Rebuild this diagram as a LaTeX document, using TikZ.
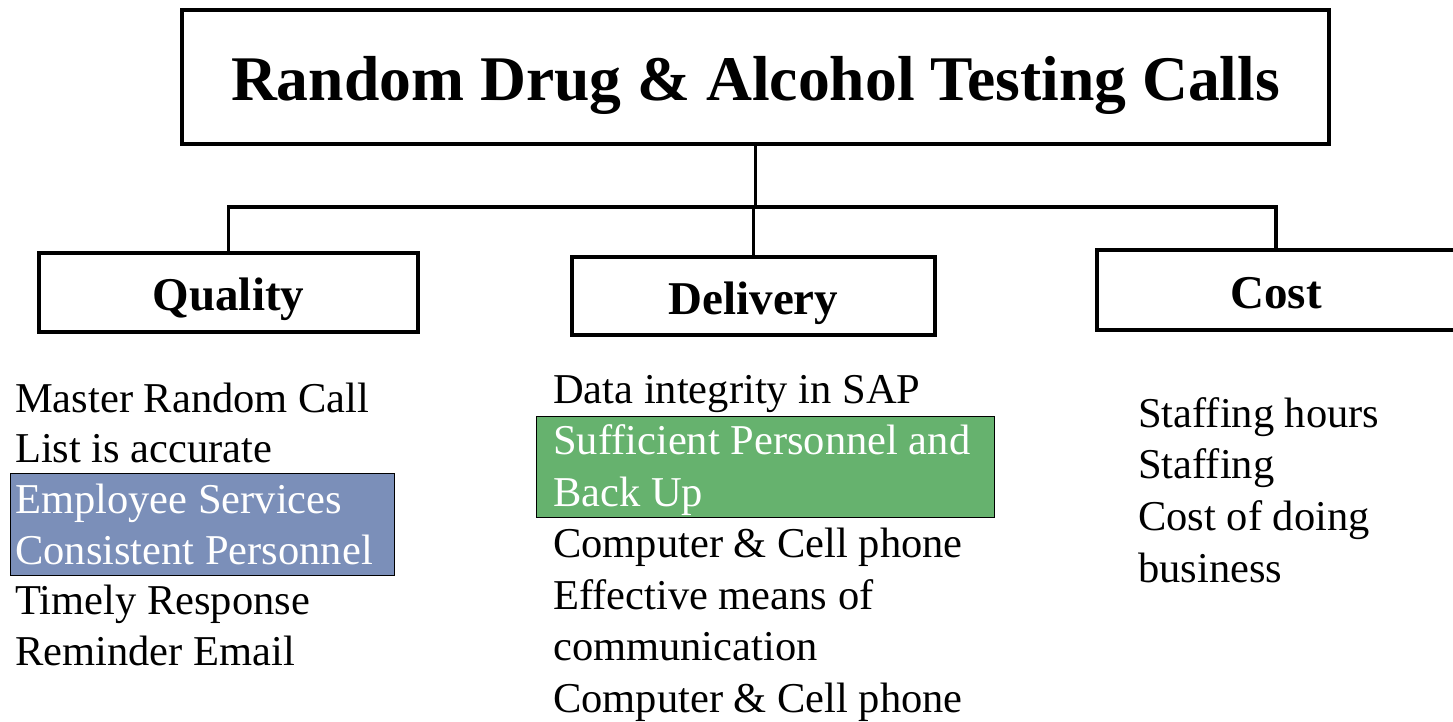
\documentclass[tikz,border=0pt]{standalone}
\usepackage{fontspec}
\setmainfont{Liberation Serif}
\definecolor{hlblue}{HTML}{7B8FB9}
\definecolor{hlgreen}{HTML}{66B26E}
\tikzset{every picture/.style = {x=1pt, y=-1pt}}
\tikzset{head/.style = {draw, line width=4pt, minimum width=1147pt, minimum height=134pt, text height=60pt, text depth=14pt, font=\fontsize{63.6}{75}\selectfont\bfseries}}
\tikzset{topic/.style = {draw, line width=4pt, minimum height=79pt, text height=40pt, text depth=4pt, font=\fontsize{47}{56}\selectfont\bfseries}}
\tikzset{item/.style = {anchor=base west, inner sep=0, font=\fontsize{42.5}{51}\selectfont}}
\tikzset{hlbox/.style = {draw=black, line width=1pt}}
\tikzset{link/.style = {line width=3.5pt}}

\begin{document}
\begin{tikzpicture}
  \useasboundingbox (0, 0) rectangle (1453, 721);
  \clip (0, 0) rectangle (1453, 721);
  \node[head] (title) at (755.5, 77) {Random Drug \& Alcohol Testing Calls};
  \node[topic, minimum width=379pt] (quality) at (228.5, 292.5) {Quality};
  \node[topic, minimum width=363pt, minimum height=78pt] (delivery) at (753.5, 296) {Delivery};
  \node[topic, minimum width=358pt, minimum height=80pt] (cost) at (1276, 290) {Cost};
  \coordinate (bus) at (752, 207);
  \draw[link] (title.south) -- (title.south |- bus);
  \draw[link] (quality.north) |- (bus) -| (cost.north);
  \draw[link] (delivery.north) -- (delivery.north |- bus);
  \draw[hlbox, fill=hlblue] (10, 473) rectangle (394, 575);
  \draw[hlbox, fill=hlgreen] (536, 416) rectangle (994, 517);
  \foreach \txt/\col [count=\i from 0] in {Master Random Call/black, List is accurate/black,
      Employee Services/white, Consistent Personnel/white, Timely Response/black, Reminder Email/black}
    \node[item, \col] (q\i) at (15, {412 + 50.7*\i}) {\txt};
  \foreach \txt/\col [count=\i from 0] in {Data integrity in SAP/black, Sufficient Personnel and/white,
      Back Up/white, Computer \& Cell phone/black, Effective means of/black, communication/black,
      Computer \& Cell phone/black}
    \node[item, \col] (d\i) at (553, {403 + 51.5*\i}) {\txt};
  \foreach \txt [count=\i from 0] in {Staffing hours, Staffing, Cost of doing, business}
    \node[item] (c\i) at (1138, {427 + 51.7*\i}) {\txt};
\end{tikzpicture}
\end{document}
